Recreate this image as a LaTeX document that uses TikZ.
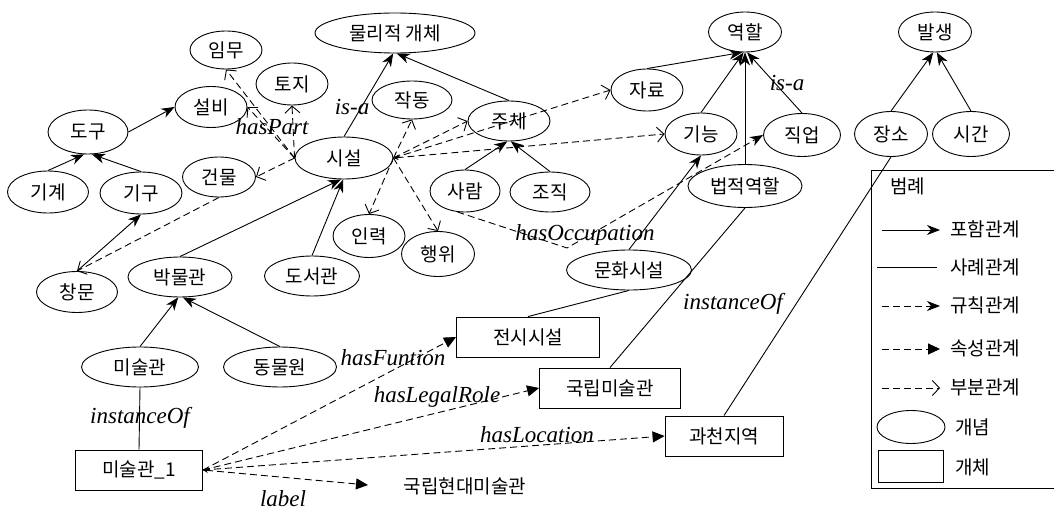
\documentclass[tikz,border=0pt]{standalone}
\usepackage{fontspec}
\setmainfont{Liberation Serif}
\newfontfamily\kr{Noto Sans CJK KR}
\usetikzlibrary{shapes.geometric,arrows.meta}
\begin{document}
\begin{tikzpicture}[x=1pt,y=-1pt,line width=0.9pt,
  every node/.style={font=\kr\fontsize{19}{22}\selectfont},
  concept/.style={draw, ellipse, inner sep=0pt, minimum width=#1, minimum height=42pt},
  concept/.default=74pt,
  inst/.style={draw, rectangle, inner sep=0pt, minimum height=40pt, minimum width=#1},
  inst/.default=130pt,
  lab/.style={font=\normalfont\itshape\fontsize{23}{26}\selectfont, inner sep=0pt},
  inc/.style={-{Stealth[length=13pt,width=10pt,inset=4pt]}},
  rule/.style={dash pattern=on 7pt off 4pt,-{Stealth[length=13pt,width=10pt,inset=4pt]}},
  attr/.style={dash pattern=on 7pt off 4pt,-{Triangle[length=12pt,width=11pt]}},
  part/.style={dash pattern=on 7pt off 4pt,-{Straight Barb[length=7pt,width=15pt]}}
]
\useasboundingbox (0,0) rectangle (1054,513);

% concepts
\node[concept=72pt, minimum height=38pt] (imu) at (226,50) {임무};
\node[concept=72pt] (toji) at (292,84) {토지};
\node[concept=72pt, minimum height=41pt] (seolbi) at (211,107) {설비};
\node[concept=80pt, minimum height=44pt] (dogu) at (88,132) {도구};
\node[concept=73pt, minimum height=40pt] (geonmul) at (219,177) {건물};
\node[concept=81pt] (gigye) at (48,192) {기계};
\node[concept=82pt] (gigu) at (141,193) {기구};
\node[concept=98pt] (sise) at (344,158) {시설};
\node[concept=160pt, minimum height=40pt] (phys) at (395,33) {물리적 개체};
\node[concept=80pt, minimum height=38pt] (jak) at (412,100) {작동};
\node[concept=82pt, minimum height=40pt] (juche) at (509,121) {주체};
\node[concept=72pt, minimum height=43pt] (inryeok) at (369,236) {인력};
\node[concept=73pt, minimum height=45pt] (haeng) at (438,254) {행위};
\node[concept=70pt] (saram) at (465,191) {사람};
\node[concept=80pt, minimum height=40pt] (jojik) at (550,192) {조직};
\node[concept=72pt] (jaryo) at (647,90) {자료};
\node[concept=73pt, minimum height=40pt] (yeokhal) at (745,32) {역할};
\node[concept=73pt, minimum height=40pt] (balsaeng) at (935,32) {발생};
\node[concept=72pt] (gineung) at (701,134) {기능};
\node[concept=77pt, minimum height=43pt] (jikup) at (802,135) {직업};
\node[concept=114pt, minimum height=43pt] (beop) at (745,186) {법적역할};
\node[concept=73pt, minimum height=45pt] (jangso) at (891,134) {장소};
\node[concept=77pt, minimum height=45pt] (sigan) at (971,134) {시간};
\node[concept=125pt, minimum height=40pt] (munhwa) at (629,270) {문화시설};
\node[concept=95pt, minimum height=40pt] (doseo) at (312,276) {도서관};
\node[concept=104pt, minimum height=40pt] (bak) at (180,277) {박물관};
\node[concept=81pt, minimum height=41pt] (chang) at (77,292) {창문};
\node[concept=117pt, minimum height=40pt] (misul) at (140,367) {미술관};
\node[concept=113pt, minimum height=40pt] (dongmul) at (280,367) {동물원};

% instances
\node[inst=127pt] (m1) at (139,470) {미술관\_1};
\node[inst=143pt] (jeonsi) at (528,337) {전시시설};
\node[inst=141pt] (gukrip) at (610,388) {국립미술관};
\node[inst=118pt] (gwacheon) at (724,436) {과천지역};
\node[inner sep=0pt] (hyeondae) at (465,486) {국립현대미술관};
\coordinate (labelend) at (368,485);
\coordinate (occbend) at (567,248);

% inclusion arrows
\draw[inc] (gigye.north) -- (dogu.260);
\draw[inc] (gigu.north) -- (dogu.280);
\draw[inc] (dogu.east) -- (seolbi.west);
\draw[inc] (chang.north) -- (gigu.south);
\draw[inc] (sise.north) -- (phys.265);
\draw[inc] (juche.north) -- (phys.275);
\draw[inc] (bak.north) -- (sise.262);
\draw[inc] (doseo.north) -- (sise.268);
\draw[inc] (saram.north) -- (juche.265);
\draw[inc] (jojik.north) -- (juche.275);
\draw[inc] (misul.north) -- (bak.265);
\draw[inc] (dongmul.north) -- (bak.278);
\draw[inc] (jaryo.north) -- (yeokhal.262);
\draw[inc] (gineung.north) -- (yeokhal.266);
\draw[inc] (beop.north) -- (yeokhal.270);
\draw[inc] (jikup.north) -- (yeokhal.276);
\draw[inc] (jangso.north) -- (balsaeng.265);
\draw[inc] (sigan.north) -- (balsaeng.275);
\draw[inc] (munhwa.north) -- (gineung.south);

% instance lines
\draw (misul.south) -- (m1.north);
\draw (munhwa.south) -- (jeonsi.north);
\draw (gukrip.north) -- (beop.south);
\draw (gwacheon.north) -- (jangso.south);

% part-of (open)
\draw[part] (sise.west) -- (imu.south);
\draw[part] (sise.west) -- (seolbi.east);
\draw[part] (sise.west) -- (toji.south);
\draw[part] (sise.west) -- (geonmul.east);
\draw[part] (geonmul.south) -- (chang.north);
\draw[part] (sise.east) -- (jak.south);
\draw[part] (sise.east) -- (juche.west);
\draw[part] (sise.east) -- (jaryo.west);
\draw[dash pattern=on 7pt off 4pt,{Stealth[length=5pt,width=5pt]}-{Straight Barb[length=7pt,width=15pt]}] (sise.east) -- (gineung.west);
\draw[part] (sise.east) -- (inryeok.north);
\draw[part] (sise.east) -- (haeng.north);

% rule
\draw[rule] (saram.250) -- (occbend) -- (jikup.west);

% attributes
\draw[attr] (m1.east) -- (jeonsi.west);
\draw[attr] (m1.east) -- (gukrip.west);
\draw[attr] (m1.east) -- (gwacheon.west);
\draw[dash pattern=on 7pt off 4pt,{Stealth[length=5pt,width=5pt]}-{Triangle[length=12pt,width=11pt]}] (m1.east) -- (labelend);

% labels
\node[lab] (lhaspart) at (272,127) {hasPart};
\node[lab] (lisa1) at (352,107) {is-a};
\node[lab] (lisa2) at (787,83) {is-a};
\node[lab] (locc) at (585,235) {hasOccupation};
\node[lab] (linst2) at (733,304) {instanceOf};
\node[lab] (linst1) at (140,418) {instanceOf};
\node[lab] (lfun) at (393,358) {hasFuntion};
\node[lab] (llegal) at (437,397) {hasLegalRole};
\node[lab] (lloc) at (537,435) {hasLocation};
\node[lab] (llabel) at (283,499) {label};

% legend
\draw (1060,170) -| (871,488) -- (1060,488);
\node[anchor=west, inner sep=0pt] (lgtitle) at (890,186) {범례};
\coordinate (a1) at (882,230); \coordinate (b1) at (940,230);
\coordinate (a2) at (877,267); \coordinate (b2) at (937,267);
\coordinate (a3) at (882,306); \coordinate (b3) at (940,306);
\coordinate (a4) at (882,349); \coordinate (b4) at (940,349);
\coordinate (a5) at (882,388); \coordinate (b5) at (940,388);
\draw[inc] (a1) -- (b1);
\draw (a2) -- (b2);
\draw[rule] (a3) -- (b3);
\draw[attr] (a4) -- (b4);
\draw[part] (a5) -- (b5);
\node[anchor=west, inner sep=0pt] (t1) at (950,229) {포함관계};
\node[anchor=west, inner sep=0pt] (t2) at (950,267) {사례관계};
\node[anchor=west, inner sep=0pt] (t3) at (950,305) {규칙관계};
\node[anchor=west, inner sep=0pt] (t4) at (950,348) {속성관계};
\node[anchor=west, inner sep=0pt] (t5) at (950,387) {부분관계};
\node[concept=68pt, minimum height=33pt] (lgell) at (911,427) {};
\node[inst=65pt, minimum height=32pt] (lgrect) at (911,466) {};
\node[anchor=west, inner sep=0pt] (t6) at (955,427) {개념};
\node[anchor=west, inner sep=0pt] (t7) at (955,467) {개체};
\end{tikzpicture}
\end{document}
